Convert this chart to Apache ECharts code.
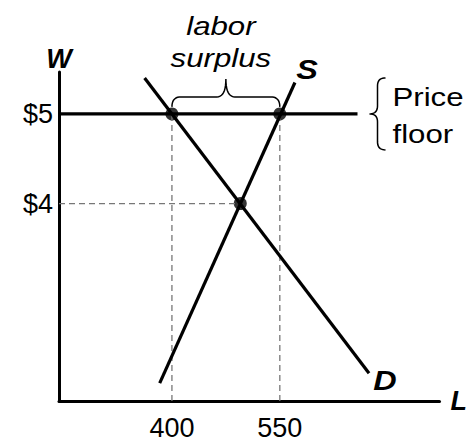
<!DOCTYPE html>
<html>
<head>
<meta charset="utf-8">
<script src="https://cdn.jsdelivr.net/npm/echarts@6/dist/echarts.min.js"></script>
<style>html,body{margin:0;padding:0;background:#fff}#c{width:470px;height:441px}</style>
</head>
<body>
<div id="c"></div>
<script>
// ---- data ----
const xTicks = [400, 550];
const yTicks = [4, 5];
const xRange = [243, 772];
const yRange = [1.8, 5.467];
const priceFloor = [[243, 5], [658, 5]];
const demand = [[362, 5.4], [674, 2.11]];
const supply = [[383, 2.0], [571, 5.35]];
const keyPoints = [[400, 5], [550, 5], [495, 4]];
const guide400 = [[400, 1.8], [400, 5]];
const guide550 = [[550, 1.8], [550, 5]];
const guide4 = [[243, 4], [495, 4]];

const FONT = '"Liberation Sans", Arial, sans-serif';
const chart = echarts.init(document.getElementById('c'), null, {renderer: 'svg'});

function lineSeries(data, opts) {
  return Object.assign({
    type: 'line', data: data, symbol: 'none', silent: true, animation: false,
    lineStyle: {color: '#000', width: 3.2}
  }, opts || {});
}
const dashStyle = {color: '#777', width: 1.3, type: [6, 4]};

chart.setOption({
  animation: false,
  grid: {left: 59, top: 72, width: 388, height: 330},
  xAxis: {
    type: 'value', min: xRange[0], max: xRange[1],
    name: 'L', nameLocation: 'end', nameGap: 11,
    nameTextStyle: {fontFamily: FONT, fontSize: 27, fontWeight: 'bold', fontStyle: 'italic', color: '#000', verticalAlign: 'middle'},
    axisLine: {lineStyle: {color: '#000', width: 3}},
    axisTick: {show: false, customValues: xTicks},
    splitLine: {show: false},
    axisLabel: {customValues: xTicks, margin: 13, fontFamily: FONT, fontSize: 27, color: '#000'}
  },
  yAxis: {
    type: 'value', min: yRange[0], max: yRange[1],
    name: 'W', nameLocation: 'end', nameGap: 0,
    nameTextStyle: {fontFamily: FONT, fontSize: 27, fontWeight: 'bold', fontStyle: 'italic', color: '#000', align: 'center'},
    axisLine: {lineStyle: {color: '#000', width: 3}},
    axisTick: {show: false, customValues: yTicks},
    splitLine: {show: false},
    axisLabel: {customValues: yTicks, margin: 6, fontFamily: FONT, fontSize: 27, color: '#000',
      formatter: v => '$' + v}
  },
  series: [
    lineSeries(guide400, {lineStyle: dashStyle}),
    lineSeries(guide550, {lineStyle: dashStyle}),
    lineSeries(guide4, {lineStyle: dashStyle}),
    lineSeries(priceFloor),
    lineSeries(demand),
    lineSeries(supply),
    {type: 'scatter', data: keyPoints, symbol: 'circle', symbolSize: 13, silent: true,
     itemStyle: {color: '#000'}}
  ]
});

// ---- annotations positioned via the chart's own scales ----
const px = v => chart.convertToPixel({gridIndex: 0}, v);
const a = px([400, 5]), b = px([550, 5]);
const fEnd = px(priceFloor[1]);
const sTop = px(supply[1]);
const dBot = px(demand[1]);

function quad(p0, c, p1, n) {
  const out = [];
  for (let i = 1; i <= n; i++) {
    const t = i / n, u = 1 - t;
    out.push([u * u * p0[0] + 2 * u * t * c[0] + t * t * p1[0], u * u * p0[1] + 2 * u * t * c[1] + t * t * p1[1]]);
  }
  return out;
}
function bracePoints(segs) {
  let pts = [segs[0][0]];
  segs.forEach(s => { pts.push(s[0]); pts = pts.concat(quad(s[0], s[1], s[2], 10)); });
  return pts;
}

const x1 = a[0], x2 = b[0], xm = (x1 + x2) / 2;
const yb = a[1] - 7, ym = a[1] - 17, yt = a[1] - 35, r = 9;
const brace1 = bracePoints([
  [[x1, yb], [x1, ym], [x1 + r, ym]],
  [[xm - r, ym], [xm, ym], [xm, yt]],
  [[xm, yt], [xm, ym], [xm + r, ym]],
  [[x2 - r, ym], [x2, ym], [x2, yb]]
]);

const xl = fEnd[0] + 12, xv = xl + 8, xr = xl + 16;
const ytip = fEnd[1], ytop = ytip - 36, ybot = ytip + 36, r2 = 8;
const brace2 = bracePoints([
  [[xr, ytop], [xv, ytop], [xv, ytop + r2]],
  [[xv, ytip - r2], [xv, ytip], [xl, ytip]],
  [[xl, ytip], [xv, ytip], [xv, ytip + r2]],
  [[xv, ybot - r2], [xv, ybot], [xr, ybot]]
]);

const SX = 1.2;
function txt(x, y, s, style, align) {
  return {type: 'text', x: x, y: y, originX: 0, originY: 0, scaleX: SX, silent: true,
    style: Object.assign({text: s, fontFamily: FONT, fontSize: 26, fill: '#000',
      align: align || 'center', verticalAlign: 'middle'}, style || {})};
}
chart.setOption({
  graphic: [
    {type: 'polyline', shape: {points: brace1}, style: {stroke: '#000', lineWidth: 1.5, fill: null}, silent: true},
    {type: 'polyline', shape: {points: brace2}, style: {stroke: '#000', lineWidth: 1.5, fill: null}, silent: true},
    txt(xm - 5, 26, 'labor', {fontStyle: 'italic'}),
    txt(xm - 5, 58, 'surplus', {fontStyle: 'italic'}),
    txt(xr + 7, ytip - 17, 'Price', {}, 'left'),
    txt(xr + 7, ytip + 20, 'floor', {}, 'left'),
    txt(sTop[0] + 12, sTop[1] - 13, 'S', {fontWeight: 'bold', fontStyle: 'italic', fontSize: 27}),
    txt(dBot[0] + 16, dBot[1] + 7, 'D', {fontWeight: 'bold', fontStyle: 'italic', fontSize: 27})
  ]
});
</script>
</body>
</html>
